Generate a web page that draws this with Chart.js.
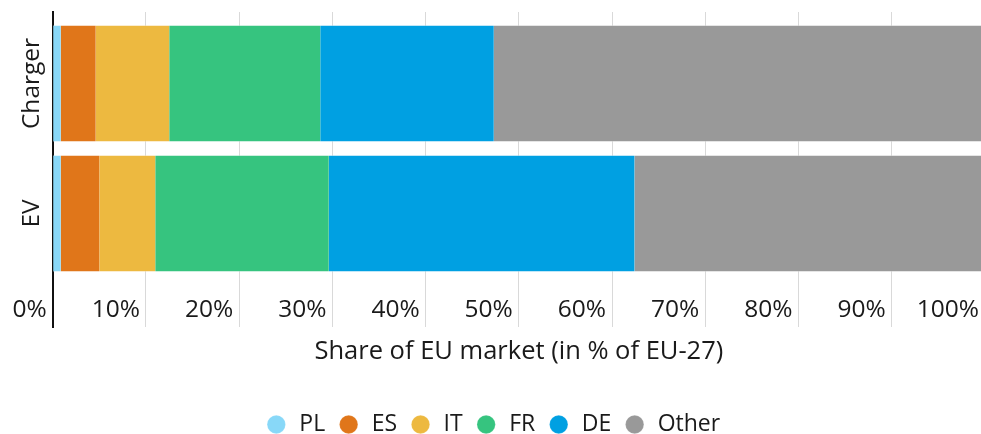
<!DOCTYPE html>
<html>
<head>
<meta charset="utf-8">
<script src="https://cdn.jsdelivr.net/npm/chart.js@4.4.1/dist/chart.umd.min.js"></script>
<style>
  html, body { margin: 0; padding: 0; background: #fff; overflow: hidden; }
  #wrap { width: 990px; height: 446px; }
</style>
</head>
<body>
<div id="wrap"><canvas id="shareChart"></canvas></div>
<script>
// bars (top to bottom)
const categories = ['Charger', 'EV'];

// share of EU-27 market, in %
const plShare    = [0.85, 0.85];
const esShare    = [3.75, 4.15];
const itShare    = [7.9, 6.0];
const frShare    = [16.2, 18.6];
const deShare    = [18.6, 32.8];
const otherShare = [52.7, 37.6];

const xTickValues = [0, 10, 20, 30, 40, 50, 60, 70, 80, 90, 100];
const xTickLabels = ['0%', '10%', '20%', '30%', '40%', '50%', '60%', '70%', '80%', '90%', '100%'];

const series = [
  { label: 'PL', data: plShare, color: '#88d8f8' },
  { label: 'ES', data: esShare, color: '#e0761a' },
  { label: 'IT', data: itShare, color: '#edb940' },
  { label: 'FR', data: frShare, color: '#36c47f' },
  { label: 'DE', data: deShare, color: '#00a0e2' },
  { label: 'Other', data: otherShare, color: '#999999' },
];

Chart.defaults.font.family = '"Open Sans", sans-serif';
Chart.defaults.font.size = 23;
Chart.defaults.color = '#1a1a1a';

// y is a linear index axis so the bars can sit where they do in the original;
// rotated labels are right-aligned by Chart.js, so move each one up by half its length
const centerYLabels = {
  id: 'centerYLabels',
  afterLayout(chart) {
    const s = chart.scales.y;
    const ppu = Math.abs(s.getPixelForValue(1) - s.getPixelForValue(0));
    const sizes = s._getLabelSizes();
    s.ticks.forEach((t, i) => {
      t.value = i - sizes.widths[i] / 2 / ppu;
    });
  }
};

const ctx = document.getElementById('shareChart').getContext('2d');

new Chart(ctx, {
  type: 'bar',
  data: {
    labels: categories.map((c, i) => i),
    datasets: series.map(s => ({
      label: s.label,
      data: s.data,
      backgroundColor: s.color,
      borderColor: 'rgba(255,255,255,0.35)',
      borderWidth: { top: 1, bottom: 1, left: 0, right: 0 },
      borderSkipped: false,
      barThickness: 117,
    }))
  },
  plugins: [centerYLabels],
  options: {
    indexAxis: 'y',
    responsive: true,
    maintainAspectRatio: false,
    animation: false,
    layout: { padding: { top: 12, right: 5, left: 0, bottom: 0 } },
    plugins: {
      tooltip: { enabled: false },
      legend: {
        position: 'bottom',
        labels: {
          usePointStyle: true,
          pointStyle: 'circle',
          boxWidth: 23,
          boxHeight: 13,
          padding: 12,
        }
      }
    },
    scales: {
      x: {
        stacked: true,
        min: 0,
        max: 100,
        afterBuildTicks: s => { s.ticks = xTickValues.map(v => ({ value: v })); },
        afterFit: s => { s.paddingLeft = 0; s.paddingRight = 0; },
        ticks: {
          mirror: true,
          align: 'end',
          labelOffset: -6,
          padding: 1.8,
          maxRotation: 0,
          autoSkip: false,
          font: { size: 24.5 },
          callback: (v, i) => xTickLabels[i]
        },
        grid: { color: '#d9d9d9', lineWidth: 1, drawTicks: false },
        border: { display: false },
        title: {
          display: true,
          text: 'Share of EU market (in % of EU-27)',
          font: { size: 25.5 },
          padding: { top: 6.1, bottom: 33.7 }
        }
      },
      y: {
        type: 'linear',
        stacked: true,
        reverse: true,
        offset: false,
        min: -0.55,
        max: 1.873,
        afterBuildTicks: s => { s.ticks = categories.map((c, i) => ({ value: i })); },
        afterFit: s => { s.paddingTop = 0; s.paddingBottom = 0; },
        ticks: {
          minRotation: 90,
          maxRotation: 90,
          padding: 3.1,
          autoSkip: false,
          font: { size: 24.5 },
          callback: (v, i) => categories[i]
        },
        grid: {
          display: true,
          offset: false,
          drawOnChartArea: false,
          drawTicks: true,
          tickLength: 17.15,
          color: 'rgba(0,0,0,0)'
        },
        border: { color: '#111', width: 2 }
      }
    }
  }
});
</script>
</body>
</html>
